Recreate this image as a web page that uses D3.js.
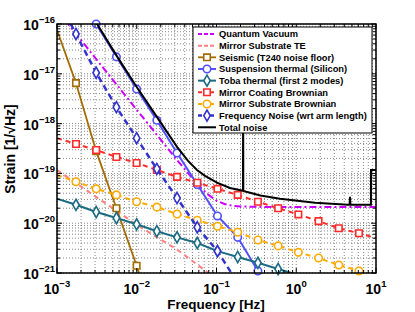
<!DOCTYPE html>
<html>
<head>
<meta charset="utf-8">
<script src="https://cdn.jsdelivr.net/npm/d3@7"></script>
<style>
  body { margin: 0; background: #fff; }
  text { font-family: "Liberation Sans", Arial, Helvetica, sans-serif; font-weight: bold; }
</style>
</head>
<body>
<div id="chart"></div>
<script>
// marker frequencies (Hz)
const markF = [0.00173, 0.0031, 0.00556, 0.00997, 0.01786, 0.032, 0.0574, 0.1029, 0.1845, 0.3307, 0.593, 1.063, 1.905, 3.416, 6.12]

const quantumF = [0.00126, 0.00316, 0.01, 0.0316, 0.0501, 0.063, 0.0794, 0.1, 0.126, 0.158, 0.2, 0.4, 1, 10]
const quantumS = [1.2e-16, 1.9e-17, 1.9e-18, 1.9e-19, 7.9e-20, 5.2e-20, 3.7e-20, 2.84e-20, 2.43e-20, 2.24e-20, 2.17e-20, 2.12e-20, 2.11e-20, 2.11e-20]

const teF = [0.001, 0.00316, 0.01, 0.0316, 0.0794, 0.16]
const teS = [1.17e-19, 3.3e-20, 9.3e-21, 3.0e-21, 1.0e-21, 4.5e-22]

const seismicF = [0.001, 0.00173, 0.0031, 0.00556, 0.00997, 0.0141]
const seismicS = [7.6e-17, 6.5e-18, 2.8e-19, 2.0e-20, 1.4e-21, 2.5e-22]

const suspF = [0.00173, 0.0031, 0.00556, 0.00997, 0.01786, 0.032, 0.0574, 0.1029, 0.1845, 0.3307, 0.593]
const suspS = [4.5e-16, 1.0e-16, 2.19e-17, 4.95e-18, 1.17e-18, 2.57e-19, 6.0e-20, 1.4e-20, 5.2e-21, 1.1e-21, 1.6e-22]

const tobaF = [0.001, 0.00173, 0.0031, 0.00556, 0.00997, 0.01786, 0.032, 0.0574, 0.1029, 0.1845, 0.3307, 0.593, 1.063, 1.905]
const tobaS = [3.1e-20, 2.34e-20, 1.68e-20, 1.27e-20, 9.5e-21, 6.9e-21, 5.2e-21, 4.0e-21, 2.75e-21, 2.1e-21, 1.6e-21, 1.2e-21, 9.1e-22, 6.8e-22]

const coatF = [0.001, 0.00173, 0.0031, 0.00556, 0.00997, 0.01786, 0.032, 0.0574, 0.1029, 0.1845, 0.3307, 0.593, 1.063, 1.905, 3.416, 6.12, 10]
const coatS = [5.1e-19, 3.9e-19, 2.95e-19, 2.14e-19, 1.62e-19, 1.17e-19, 8.5e-20, 6.5e-20, 4.9e-20, 3.7e-20, 2.7e-20, 2.0e-20, 1.5e-20, 1.1e-20, 7.9e-21, 6.3e-21, 5.0e-21]

const subF = coatF
const subS = [9.3e-20, 6.8e-20, 4.9e-20, 3.7e-20, 2.7e-20, 2.1e-20, 1.53e-20, 1.15e-20, 8.7e-21, 6.6e-21, 4.6e-21, 3.5e-21, 2.6e-21, 2.0e-21, 1.45e-21, 1.1e-21, 8.5e-22]

const freqF = [0.001, 0.00173, 0.0031, 0.00556, 0.00997, 0.01786, 0.032, 0.0574, 0.1029, 0.1845]
const freqS = [3.5e-16, 6.3e-17, 1.05e-17, 2.14e-18, 5.1e-19, 1.23e-19, 3.2e-20, 8.3e-21, 2.75e-21, 6.3e-22]

const totalF = [0.00251, 0.00318, 0.0055, 0.0098, 0.01795, 0.032, 0.044, 0.0569, 0.0718, 0.1014, 0.1476, 0.2148, 0.2158, 0.2168, 0.355, 0.625, 1.72, 4.46, 4.66, 4.72, 4.78, 8.64, 8.66, 10]
const totalS = [1.8e-16, 1.0e-16, 2.4e-17, 5.7e-18, 1.35e-18, 3.4e-19, 1.78e-19, 1.17e-19, 8.9e-20, 6.5e-20, 5.1e-20, 4.5e-20, 3.0e-18, 4.45e-20, 3.6e-20, 3.1e-20, 2.57e-20, 2.34e-20, 2.34e-20, 3.4e-20, 2.34e-20, 2.34e-20, 1.17e-19, 1.17e-19]

const xTicks = [1e-3, 1e-2, 1e-1, 1, 10]
const xTickExp = ['−3', '−2', '−1', '0', '1']
const yTicks = [1e-16, 1e-17, 1e-18, 1e-19, 1e-20, 1e-21]
const yTickExp = ['−16', '−17', '−18', '−19', '−20', '−21']

const series = [
    { name: 'Quantum Vacuum', f: quantumF, s: quantumS, color: '#cc00ff', dash: '7,3,2,3', w: 2, mark: null },
    { name: 'Mirror Substrate TE', f: teF, s: teS, color: '#ff8080', dash: '5,4', w: 2, mark: null },
    { name: 'Seismic (T240 noise floor)', f: seismicF, s: seismicS, color: '#a36c00', dash: null, w: 1.8, mark: 'square' },
    { name: 'Suspension thermal (Silicon)', f: suspF, s: suspS, color: '#5050ff', dash: null, w: 2, mark: 'circle' },
    { name: 'Toba thermal (first 2 modes)', f: tobaF, s: tobaS, color: '#1b6b82', dash: null, w: 2, mark: 'diamond' },
    { name: 'Mirror Coating Brownian', f: coatF, s: coatS, color: '#ff2a2a', dash: '5,4', w: 2, mark: 'square' },
    { name: 'Mirror Substrate Brownian', f: subF, s: subS, color: '#ffaa00', dash: '5,4', w: 2, mark: 'circle' },
    { name: 'Frequency Noise (wrt arm length)', f: freqF, s: freqS, color: '#3333cc', dash: '6,4', w: 2.5, mark: 'diamond' },
    { name: 'Total noise', f: totalF, s: totalS, color: '#000', dash: null, w: 2, mark: null }
]

const W = 415, H = 312
const m = { left: 57, right: 39, top: 24, bottom: 39 }

const svg = d3.select('#chart').append('svg')
    .attr('width', W)
    .attr('height', H)

const x = d3.scaleLog().domain([1e-3, 10]).range([m.left, W - m.right])
const y = d3.scaleLog().domain([1e-21, 1e-16]).range([H - m.bottom, m.top])

// dotted grid on every major and minor decade step
let minors = []
for (let k = -21; k <= -16; k++) for (let j = 1; j <= 9; j++) minors.push(j * Math.pow(10, k))
let yGrid = minors.filter(v => v >= 1e-21 * 0.999 && v <= 1e-16 * 1.001)
let xGrid = []
for (let k = -3; k <= 1; k++) for (let j = 1; j <= 9; j++) xGrid.push(j * Math.pow(10, k))
xGrid = xGrid.filter(v => v <= 10.001)

const grid = svg.append('g').attr('stroke', '#555').attr('stroke-width', 0.7).attr('stroke-dasharray', '1,2')
grid.selectAll('.gx').data(xGrid).enter().append('line')
    .attr('x1', d => x(d)).attr('x2', d => x(d))
    .attr('y1', m.top).attr('y2', H - m.bottom)
grid.selectAll('.gy').data(yGrid).enter().append('line')
    .attr('y1', d => y(d)).attr('y2', d => y(d))
    .attr('x1', m.left).attr('x2', W - m.right)

svg.append('clipPath').attr('id', 'clip').append('rect')
    .attr('x', m.left).attr('y', m.top)
    .attr('width', W - m.left - m.right).attr('height', H - m.top - m.bottom)

const line = d3.line().x(d => x(d[0])).y(d => y(d[1]))

const symbolOf = {
    square: d3.symbol().type(d3.symbolSquare).size(42),
    circle: d3.symbol().type(d3.symbolCircle).size(44),
    diamond: d3.symbol().type(d3.symbolDiamond).size(36)
}

const plot = svg.append('g')
series.forEach(sr => {
    let pts = sr.f.map((f, i) => [f, sr.s[i]])
    plot.append('path')
        .attr('clip-path', 'url(#clip)')
        .attr('d', line(pts))
        .attr('fill', 'none')
        .attr('stroke', sr.color)
        .attr('stroke-width', sr.w)
        .attr('stroke-dasharray', sr.dash)
    if (sr.mark) {
        // markers only where the point sits in the axes and on the marker grid
        let mp = pts.filter(p => markF.includes(p[0]) && p[1] >= 1e-21 * 0.999 && p[1] <= 1e-16 * 1.001)
        plot.selectAll(null).data(mp).enter().append('path')
            .attr('d', symbolOf[sr.mark])
            .attr('transform', d => `translate(${x(d[0])},${y(d[1])})`)
            .attr('fill', '#fff')
            .attr('stroke', sr.color)
            .attr('stroke-width', 1.6)
    }
})

// axes: ticks inside, on all four sides
const xMinor = xGrid.filter(v => !xTicks.includes(v))
const yMinor = yGrid.filter(v => !yTicks.some(t => Math.abs(t - v) / t < 1e-6))
const axG = svg.append('g').attr('stroke', '#000')
function tickLines(vals, len, isX) {
    vals.forEach(v => {
        if (isX) {
            axG.append('line').attr('x1', x(v)).attr('x2', x(v)).attr('y1', H - m.bottom).attr('y2', H - m.bottom - len)
            axG.append('line').attr('x1', x(v)).attr('x2', x(v)).attr('y1', m.top).attr('y2', m.top + len)
        } else {
            axG.append('line').attr('y1', y(v)).attr('y2', y(v)).attr('x1', m.left).attr('x2', m.left + len)
            axG.append('line').attr('y1', y(v)).attr('y2', y(v)).attr('x1', W - m.right).attr('x2', W - m.right - len)
        }
    })
}
tickLines(xTicks, 5, true)
tickLines(xMinor, 3, true)
tickLines(yTicks, 5, false)
tickLines(yMinor, 3, false)

svg.append('rect')
    .attr('x', m.left).attr('y', m.top)
    .attr('width', W - m.left - m.right).attr('height', H - m.top - m.bottom)
    .attr('fill', 'none').attr('stroke', '#000').attr('stroke-width', 1.5)

// tick labels: 10 with superscript exponent
xTicks.forEach((v, i) => {
    let t = svg.append('text').attr('x', x(v)).attr('y', 294).attr('text-anchor', 'middle').attr('font-size', 14)
    t.append('tspan').text('10')
    t.append('tspan').attr('dy', -7).attr('font-size', 9.5).text(xTickExp[i])
})
yTicks.forEach((v, i) => {
    let t = svg.append('text').attr('x', 55).attr('y', y(v) + 6).attr('text-anchor', 'end').attr('font-size', 14)
    t.append('tspan').text('10')
    t.append('tspan').attr('dy', -7).attr('font-size', 9.5).text(yTickExp[i])
})

svg.append('text').attr('x', 216).attr('y', 309).attr('text-anchor', 'middle').attr('font-size', 13.5)
    .text('Frequency [Hz]')
svg.append('text').attr('transform', 'translate(15,149) rotate(-90)').attr('text-anchor', 'middle').attr('font-size', 14)
    .text('Strain [1/√Hz]')

// legend
const lg = svg.append('g')
lg.append('rect').attr('x', 193).attr('y', 27).attr('width', 179).attr('height', 106)
    .attr('fill', '#fff').attr('stroke', '#000').attr('stroke-width', 1)
series.forEach((sr, i) => {
    let ly = 34 + i * 11.66
    lg.append('line').attr('x1', 198).attr('x2', 216).attr('y1', ly).attr('y2', ly)
        .attr('stroke', sr.color).attr('stroke-width', sr.w).attr('stroke-dasharray', sr.dash ? '4,2' : null)
    if (sr.mark) {
        lg.append('path').attr('d', symbolOf[sr.mark]).attr('transform', `translate(207,${ly})`)
            .attr('fill', '#fff').attr('stroke', sr.color).attr('stroke-width', 1.6)
    }
    lg.append('text').attr('x', 219).attr('y', ly + 3.3).attr('font-size', 9.3).text(sr.name)
})
</script>
</body>
</html>
